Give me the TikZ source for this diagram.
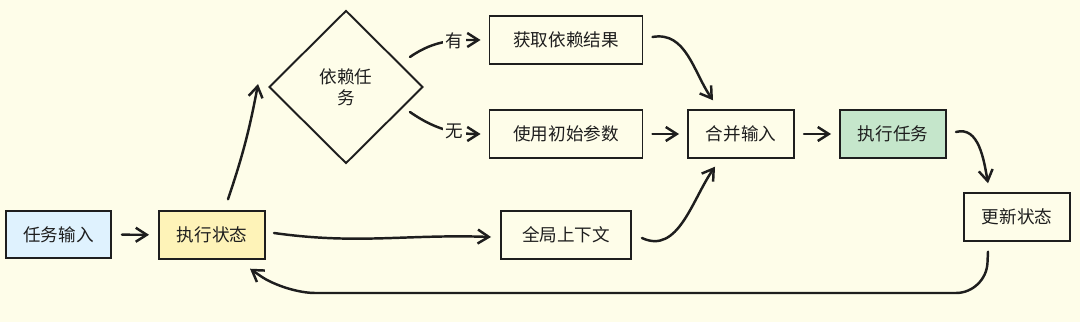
\documentclass[tikz,border=0pt]{standalone}
\usepackage{fontspec}
\setmainfont{Noto Sans CJK SC}
\usepackage{xcolor}
\usepackage{tikz}
\usetikzlibrary{positioning,arrows.meta,calc,shapes.geometric}
\definecolor{bg}{HTML}{FEFDE9}
\definecolor{ink}{HTML}{1E1E1E}
\definecolor{inblue}{HTML}{DFF2FE}
\definecolor{styel}{HTML}{FEF3B8}
\definecolor{rungrn}{HTML}{C5E6CB}

\begin{document}
\begin{tikzpicture}[every node/.style={font=\fontsize{10}{12}\selectfont,text=ink},
  bx/.style={draw=ink,line width=1.1pt,fill=bg,minimum width=2.12cm,minimum height=0.95cm},
  wbx/.style={bx,minimum width=3.06cm},
  dm/.style={diamond,draw=ink,line width=1.1pt,fill=bg,minimum width=3.08cm,minimum height=3.06cm,inner sep=0pt,align=center},
  lbl/.style={fill=bg,inner sep=1.5pt},
  e/.style={-{Straight Barb[length=2.2mm,width=2.8mm]},line width=1.4pt,ink,line cap=round}]
  \fill[bg] (0,0) rectangle (21.6,6.44);
  \useasboundingbox (0,0) rectangle (21.6,6.44);
  \node[bx,fill=inblue,minimum width=2.1cm] (in) at (1.17,1.75) {任务输入};
  \node[bx,fill=styel] (st) at (4.24,1.74) {执行状态};
  \node[dm] (dia) at (6.92,4.70) {依赖任\\务};
  \node[wbx] (get) at (11.32,5.64) {获取依赖结果};
  \node[wbx] (use) at (11.32,3.76) {使用初始参数};
  \node[bx,minimum width=2.6cm] (ctx) at (11.32,1.74) {全局上下文};
  \node[bx] (mrg) at (14.82,3.76) {合并输入};
  \node[bx,fill=rungrn] (run) at (17.86,3.76) {执行任务};
  \node[bx] (upd) at (20.34,2.10) {更新状态};
  \coordinate (lp) at (0,0.58);
  % main flow
  \draw[e,shorten <=2mm,shorten >=1.8mm] (in) -- (st);
  \draw[e] ([xshift=0.32cm,yshift=0.22cm]st.north) to[bend right=4] ([xshift=-0.2cm,yshift=0.06cm]dia.west);
  \draw[e,shorten >=1.6mm] ([xshift=-0.28cm,yshift=0.60cm]dia.east) to[out=35,in=180] node[lbl,pos=0.6]{有} (get.west);
  \draw[e,shorten >=1.6mm] ([xshift=-0.28cm,yshift=-0.50cm]dia.east) to[out=-35,in=180] node[lbl,pos=0.6]{无} (use.west);
  \draw[e] ([xshift=0.18cm,yshift=0.06cm]get.east) to[out=10,in=125] ([xshift=-0.56cm,yshift=0.18cm]mrg.north);
  \draw[e,shorten <=1.8mm,shorten >=1.6mm] (use) -- (mrg);
  \draw[e] ([xshift=0.16cm,yshift=0.04cm]st.east) to[out=-8,in=178] ([xshift=-0.18cm,yshift=-0.04cm]ctx.west);
  \draw[e] ([xshift=0.2cm,yshift=-0.06cm]ctx.east) to[out=-25,in=235] ([xshift=-0.52cm,yshift=-0.16cm]mrg.south);
  \draw[e,shorten <=1.8mm,shorten >=1.6mm] (mrg) -- (run);
  \draw[e] ([xshift=0.18cm,yshift=0.04cm]run.east) to[out=15,in=100] ([xshift=-0.58cm,yshift=0.18cm]upd.north);
  % loop back
  \draw[e,rounded corners=0.6cm] ([xshift=-0.58cm,yshift=-0.2cm]upd.south) -- ([xshift=-0.62cm]upd.south |- lp)
    -- ([xshift=1.46cm]st.south |- lp) -- ([xshift=0.76cm,yshift=-0.18cm]st.south);
\end{tikzpicture}
\end{document}
